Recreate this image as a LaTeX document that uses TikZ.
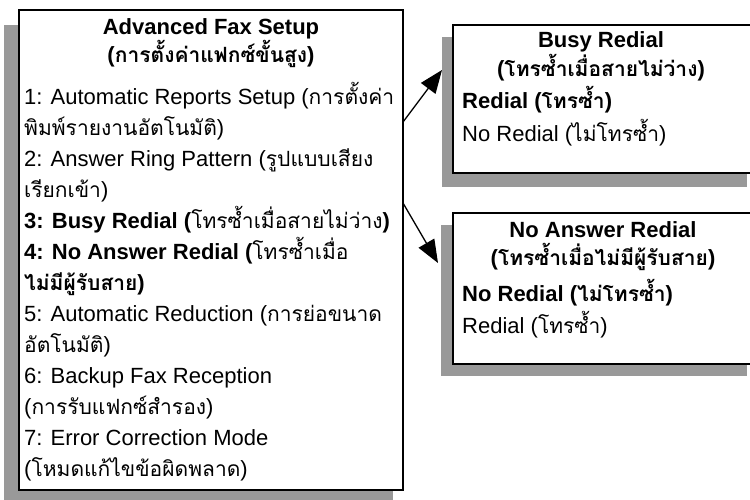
\documentclass[tikz,border=0pt]{standalone}
\usepackage{fontspec}
\setmainfont{Liberation Sans}
\newfontfamily\thaifont[Script=Thai,Scale=0.955]{Loma}
\newcommand{\thai}[1]{{\thaifont #1}}
\usetikzlibrary{arrows.meta,calc,backgrounds}

\tikzset{
  menubox/.style={draw, line width=2.2pt, fill=white, anchor=north west, inner sep=0, outer sep=0},
  headtext/.style={anchor=north, inner sep=0, align=center, font=\bfseries\fontsize{22}{29}\selectfont},
  listtext/.style={anchor=north west, inner sep=0, align=left, font=\fontsize{22}{31}\selectfont},
  dropshade/.style={fill=black!40},
  link/.style={-{Triangle[length=23pt,width=18pt]}, line width=1.3pt},
}

\begin{document}
\begin{tikzpicture}[x=1pt, y=-1pt]
\useasboundingbox (0,0) rectangle (750,499);
% the three menus
\node[menubox, minimum width=384pt, minimum height=480pt] (setup) at (19,10) {};
\node[menubox, minimum width=300pt, minimum height=148pt] (busy) at (453,25) {};
\node[menubox, minimum width=300pt, minimum height=151pt] (noans) at (453,213) {};
\begin{scope}[on background layer]
\fill[dropshade] ($(setup.north west)+(-15,15)$) rectangle ($(setup.south east)+(-10,15)$);
\fill[dropshade] ($(busy.north west)+(-11,12)$) rectangle ($(busy.south east)+(-6,14)$);
\fill[dropshade] ($(noans.north west)+(-12,12)$) rectangle ($(noans.south east)+(-6,12)$);
\end{scope}
% main menu
\node[headtext, font=\bfseries\fontsize{22}{28}\selectfont] (setuptitle) at ($(setup.north)+(0,8)$) {Advanced Fax Setup\\(\thai{การตั้งค่าแฟกซ์ขั้นสูง})};
\node[listtext] (setuplist) at ($(setup.north west)+(5,72)$) {\rule{0pt}{22pt}1: Automatic Reports Setup (\thai{การตั้งค่า}\\
\thai{พิมพ์รายงานอัตโนมัติ})\\
2: Answer Ring Pattern (\thai{รูปแบบเสียง}\\
\thai{เรียกเข้า})\\
\textbf{3: Busy Redial (}\thai{โทรซ้ำเมื่อสายไม่ว่าง}\textbf{)}\\
\textbf{4: No Answer Redial (}\thai{โทรซ้ำเมื่อ}\\
\textbf{\thai{ไม่มีผู้รับสาย})}\\
5: Automatic Reduction (\thai{การย่อขนาด}\\
\thai{อัตโนมัติ})\\
6: Backup Fax Reception\\
(\thai{การรับแฟกซ์สำรอง})\\
7: Error Correction Mode\\
(\thai{โหมดแก้ไขข้อผิดพลาด})};
% busy redial
\node[headtext] (busytitle) at ($(busy.north)+(-2,6)$) {Busy Redial\\(\thai{โทรซ้ำเมื่อสายไม่ว่าง})};
\node[listtext, font=\fontsize{22}{33}\selectfont] (busylist) at ($(busy.north west)+(9,61)$) {\rule{0pt}{22pt}\textbf{Redial (\thai{โทรซ้ำ})}\\
No Redial (\thai{ไม่โทรซ้ำ})};
% no answer redial
\node[headtext, font=\bfseries\fontsize{22}{28}\selectfont] (noanstitle) at ($(noans.north)+(0,8)$) {No Answer Redial\\(\thai{โทรซ้ำเมื่อไม่มีผู้รับสาย})};
\node[listtext, font=\fontsize{22}{32}\selectfont] (noanslist) at ($(noans.north west)+(9,66)$) {\rule{0pt}{22pt}\textbf{No Redial (\thai{ไม่โทรซ้ำ})}\\
Redial (\thai{โทรซ้ำ})};
% arrows
\coordinate (busyin) at ($(busy.north west)+(-11,45)$);
\coordinate (noansin) at ($(noans.north west)+(-15,50)$);
\draw[link] ($(setup.north east)+(0,112)$) -- (busyin);
\draw[link] ($(setup.north east)+(0,193)$) -- (noansin);
\end{tikzpicture}
\end{document}
